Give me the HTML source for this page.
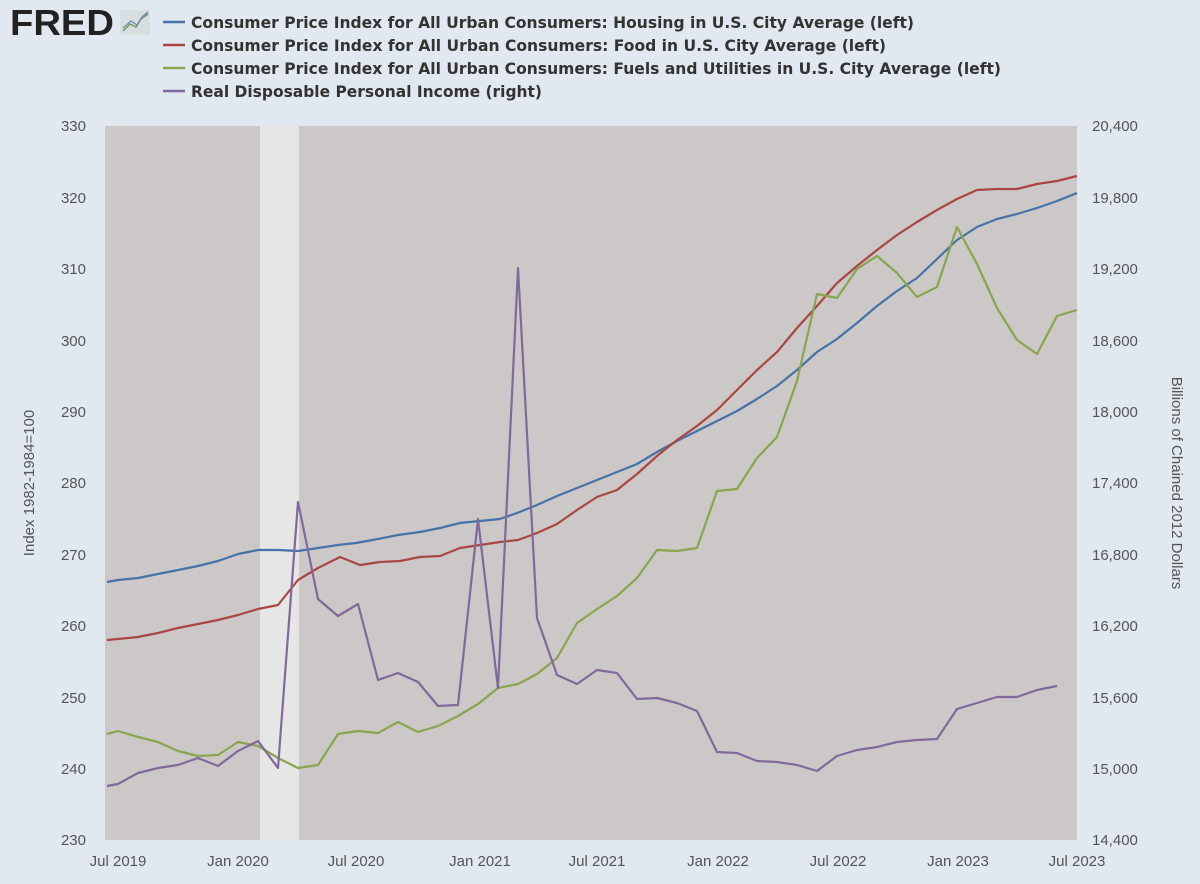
<!DOCTYPE html>
<html><head><meta charset="utf-8"><style>
body{margin:0;background:#e2e8f0;width:1200px;height:879px;overflow:hidden;font-family:"Liberation Sans",sans-serif}
</style></head><body>
<svg width="1200" height="879" xmlns="http://www.w3.org/2000/svg" font-family="Liberation Sans, DejaVu Sans, sans-serif">
<rect width="1200" height="879" fill="#e2e8f0"/>
<text x="10" y="35" font-size="36" font-weight="bold" fill="#222" textLength="104" lengthAdjust="spacingAndGlyphs">FRED</text>
<rect x="120" y="10" width="30" height="25" rx="2" fill="#d8dde0"/>
<polyline points="123,31 130,24 136,27 141,19 148,14" fill="none" stroke="#6f9a5a" stroke-width="1.5"/>
<polyline points="123,28 131,21 137,25 142,17 148,12" fill="none" stroke="#6a86b0" stroke-width="1.2"/>
<g font-size="16" font-weight="bold" fill="#333" font-family="DejaVu Sans, sans-serif">
<line x1="163" y1="22" x2="185" y2="22" stroke="#4572a7" stroke-width="2.5"/><text x="191" y="28" textLength="723" lengthAdjust="spacingAndGlyphs">Consumer Price Index for All Urban Consumers: Housing in U.S. City Average (left)</text>
<line x1="163" y1="45" x2="185" y2="45" stroke="#aa4643" stroke-width="2.5"/><text x="191" y="51" textLength="695" lengthAdjust="spacingAndGlyphs">Consumer Price Index for All Urban Consumers: Food in U.S. City Average (left)</text>
<line x1="163" y1="68" x2="185" y2="68" stroke="#89a54e" stroke-width="2.5"/><text x="191" y="74" textLength="810" lengthAdjust="spacingAndGlyphs">Consumer Price Index for All Urban Consumers: Fuels and Utilities in U.S. City Average (left)</text>
<line x1="163" y1="91" x2="185" y2="91" stroke="#80699b" stroke-width="2.5"/><text x="191" y="97" textLength="351" lengthAdjust="spacingAndGlyphs">Real Disposable Personal Income (right)</text>
</g>
<rect x="105" y="126" width="972" height="714" fill="#ccc8c8"/>
<rect x="260" y="126" width="39" height="714" fill="#e6e6e6"/>
<g font-size="15" fill="#555">
<text x="86" y="131" text-anchor="end">330</text>
<text x="86" y="203" text-anchor="end">320</text>
<text x="86" y="274" text-anchor="end">310</text>
<text x="86" y="346" text-anchor="end">300</text>
<text x="86" y="417" text-anchor="end">290</text>
<text x="86" y="488" text-anchor="end">280</text>
<text x="86" y="560" text-anchor="end">270</text>
<text x="86" y="631" text-anchor="end">260</text>
<text x="86" y="703" text-anchor="end">250</text>
<text x="86" y="774" text-anchor="end">240</text>
<text x="86" y="845" text-anchor="end">230</text>
<text x="1092" y="131">20,400</text>
<text x="1092" y="203">19,800</text>
<text x="1092" y="274">19,200</text>
<text x="1092" y="346">18,600</text>
<text x="1092" y="417">18,000</text>
<text x="1092" y="488">17,400</text>
<text x="1092" y="560">16,800</text>
<text x="1092" y="631">16,200</text>
<text x="1092" y="703">15,600</text>
<text x="1092" y="774">15,000</text>
<text x="1092" y="845">14,400</text>
<g text-anchor="middle">
<text x="118" y="866">Jul 2019</text><text x="238" y="866">Jan 2020</text><text x="356" y="866">Jul 2020</text>
<text x="480" y="866">Jan 2021</text><text x="597" y="866">Jul 2021</text><text x="718" y="866">Jan 2022</text>
<text x="838" y="866">Jul 2022</text><text x="958" y="866">Jan 2023</text><text x="1077" y="866">Jul 2023</text>
</g>
<text transform="translate(34,483) rotate(-90)" text-anchor="middle">Index 1982-1984=100</text>
<text transform="translate(1172,483) rotate(90)" text-anchor="middle">Billions of Chained 2012 Dollars</text>
</g>
<g fill="none" stroke-width="2.2" stroke-linejoin="round">
<polyline stroke="#4572a7" points="107,582 118,580 138,578 158,574 178,570 198,566 218,561 238,554 258,550 278,550 298,551 318,548 338,545 356,543 378,539 398,535 420,532 440,528 460,523 480,521 500,519 517,513 537,505 557,496 577,488 597,480 617,472 637,464 657,452 677,441 697,431 717,421 737,411 757,399 777,386 797,370 817,352 837,339 857,323 877,306 897,291 917,278 937,259 957,240 977,227 997,219 1017,214 1037,208 1057,201 1077,193"/>
<polyline stroke="#aa4643" points="107,640 118,639 138,637 158,633 178,628 198,624 218,620 238,615 258,609 278,605 298,580 318,568 340,557 360,565 380,562 400,561 420,557 440,556 460,548 480,545 500,542 518,540 537,533 557,524 577,510 597,497 617,490 637,474 657,456 677,440 697,426 717,410 737,390 757,370 777,352 797,328 817,306 837,283 857,266 877,250 897,235 917,222 937,210 957,199 977,190 997,189 1017,189 1037,184 1057,181 1077,176"/>
<polyline stroke="#89a54e" points="107,734 118,731 138,737 158,742 178,751 198,756 218,755 238,742 258,746 278,758 298,768 318,765 338,734 358,731 378,733 398,722 418,732 438,726 458,716 478,704 498,688 518,684 537,674 557,658 577,623 597,609 617,596 637,578 657,550 677,551 697,548 717,491 737,489 757,458 777,437 797,381 817,294 837,298 857,269 877,256 897,273 917,297 937,287 957,227 977,264 997,308 1017,340 1037,354 1057,316 1077,310"/>
<polyline stroke="#80699b" points="107,786 118,784 138,773 158,768 178,765 198,758 218,766 238,751 258,741 278,768 298,502 318,599 338,616 358,604 378,680 398,673 418,682 438,706 458,705 478,519 498,688 518,268 537,618 557,675 577,684 597,670 617,673 637,699 657,698 677,703 697,711 717,752 737,753 757,761 777,762 797,765 817,771 837,756 857,750 877,747 897,742 917,740 937,739 957,709 977,703 997,697 1017,697 1037,690 1057,686"/>
</g>
</svg>
</body></html>
